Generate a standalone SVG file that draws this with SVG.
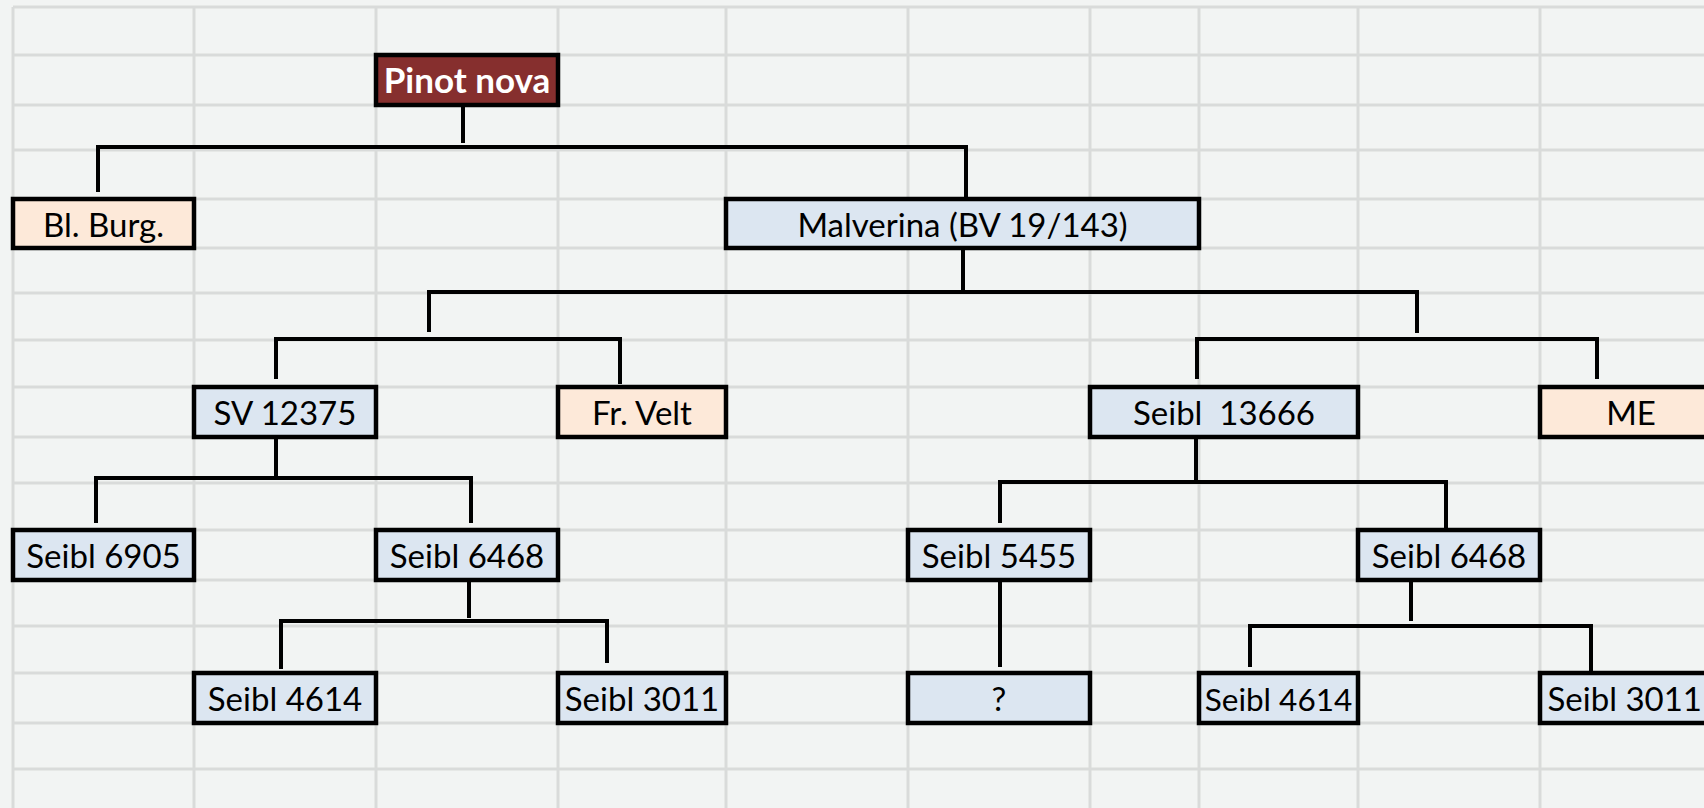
<svg xmlns="http://www.w3.org/2000/svg" width="1704" height="808" viewBox="0 0 1704 808">
<style>
.grid line{stroke:#d9dbda;stroke-width:3}
.box{stroke:#000;stroke-width:4.5}
.blue{fill:#dce6f1}
.peach{fill:#fde9d9}
.red{fill:#862f2e}
.lbl{font-family:Lato,"Open Sans",sans-serif;font-size:33px;text-anchor:middle;fill:#000;white-space:pre}
.title{font-family:Lato,"Open Sans",sans-serif;font-size:35px;font-weight:bold;text-anchor:middle;fill:#fff}
.conn path{fill:none;stroke:#000;stroke-width:4}
</style>
<rect x="0" y="0" width="1704" height="808" fill="#f2f4f3"/>
<g class="grid">
<line x1="13" y1="7" x2="1704" y2="7"/>
<line x1="13" y1="55" x2="1704" y2="55"/>
<line x1="13" y1="105" x2="1704" y2="105"/>
<line x1="13" y1="150" x2="1704" y2="150"/>
<line x1="13" y1="199" x2="1704" y2="199"/>
<line x1="13" y1="248" x2="1704" y2="248"/>
<line x1="13" y1="293" x2="1704" y2="293"/>
<line x1="13" y1="340" x2="1704" y2="340"/>
<line x1="13" y1="387" x2="1704" y2="387"/>
<line x1="13" y1="437" x2="1704" y2="437"/>
<line x1="13" y1="483" x2="1704" y2="483"/>
<line x1="13" y1="530" x2="1704" y2="530"/>
<line x1="13" y1="580" x2="1704" y2="580"/>
<line x1="13" y1="626" x2="1704" y2="626"/>
<line x1="13" y1="673" x2="1704" y2="673"/>
<line x1="13" y1="723" x2="1704" y2="723"/>
<line x1="13" y1="769" x2="1704" y2="769"/>
<line x1="13" y1="7" x2="13" y2="808"/>
<line x1="194" y1="7" x2="194" y2="808"/>
<line x1="376" y1="7" x2="376" y2="808"/>
<line x1="558" y1="7" x2="558" y2="808"/>
<line x1="726" y1="7" x2="726" y2="808"/>
<line x1="908" y1="7" x2="908" y2="808"/>
<line x1="1090" y1="7" x2="1090" y2="808"/>
<line x1="1199" y1="7" x2="1199" y2="808"/>
<line x1="1358" y1="7" x2="1358" y2="808"/>
<line x1="1540" y1="7" x2="1540" y2="808"/>
</g>
<g class="conn" id="connectors">
<path d="M463 105 V143"/>
<path d="M98 192 V147 H966 V199"/>
<path d="M963 248 V290"/>
<path d="M429 332 V292 H1417 V333"/>
<path d="M276 379 V339 H620 V384"/>
<path d="M1197 379 V339 H1597 V379"/>
<path d="M276 437 V476"/>
<path d="M96 523 V478 H471 V523"/>
<path d="M1196 437 V480"/>
<path d="M1000 523 V482 H1446 V530"/>
<path d="M469 580 V618"/>
<path d="M281 669 V621 H607 V663"/>
<path d="M1000 580 V667"/>
<path d="M1411 580 V621"/>
<path d="M1250 667 V626 H1591 V673"/>
</g>
<g id="pinot-nova"><rect class="box red" x="376" y="55" width="182" height="50"/><text class="title" x="467" y="93">Pinot nova</text></g>
<g id="bl-burg"><rect class="box peach" x="13" y="199" width="181" height="49"/><text class="lbl" x="103.5" y="237">Bl. Burg.</text></g>
<g id="malverina"><rect class="box blue" x="726" y="199" width="473" height="49"/><text class="lbl" x="962.5" y="237">Malverina (BV 19/143)</text></g>
<g id="sv-12375"><rect class="box blue" x="194" y="387" width="182" height="50"/><text class="lbl" x="285" y="425">SV 12375</text></g>
<g id="fr-velt"><rect class="box peach" x="558" y="387" width="168" height="50"/><text class="lbl" x="642" y="425">Fr. Velt</text></g>
<g id="seibl-13666"><rect class="box blue" x="1090" y="387" width="268" height="50"/><text class="lbl" x="1224" y="425">Seibl  13666</text></g>
<g id="me"><rect class="box peach" x="1540" y="387" width="182" height="50"/><text class="lbl" x="1631" y="425">ME</text></g>
<g id="seibl-6905"><rect class="box blue" x="13" y="530" width="181" height="50"/><text class="lbl" x="103.5" y="568">Seibl 6905</text></g>
<g id="seibl-6468-a"><rect class="box blue" x="376" y="530" width="182" height="50"/><text class="lbl" x="467" y="568">Seibl 6468</text></g>
<g id="seibl-5455"><rect class="box blue" x="908" y="530" width="182" height="50"/><text class="lbl" x="999" y="568">Seibl 5455</text></g>
<g id="seibl-6468-b"><rect class="box blue" x="1358" y="530" width="182" height="50"/><text class="lbl" x="1449" y="568">Seibl 6468</text></g>
<g id="seibl-4614-a"><rect class="box blue" x="194" y="673" width="182" height="50"/><text class="lbl" x="285" y="711">Seibl 4614</text></g>
<g id="seibl-3011-a"><rect class="box blue" x="558" y="673" width="168" height="50"/><text class="lbl" x="642" y="711">Seibl 3011</text></g>
<g id="unknown"><rect class="box blue" x="908" y="673" width="182" height="50"/><text class="lbl" x="999" y="711">?</text></g>
<g id="seibl-4614-b"><rect class="box blue" x="1199" y="673" width="159" height="50"/><text class="lbl" x="1278.5" y="711" style="font-size:31.5px">Seibl 4614</text></g>
<g id="seibl-3011-b"><rect class="box blue" x="1540" y="673" width="182" height="50"/><text class="lbl" x="1702" y="711" style="text-anchor:end">Seibl 3011</text></g>
</svg>
